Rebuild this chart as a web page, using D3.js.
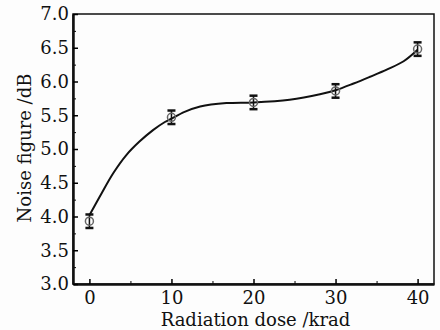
<!DOCTYPE html>
<html>
<head>
<meta charset="utf-8">
<script src="https://cdn.jsdelivr.net/npm/d3@7"></script>
<style>
  body { margin: 0; background: #fdfdfd; }
  svg text { font-family: "DejaVu Serif", serif; fill: #111; }
</style>
</head>
<body>
<div id="chart"></div>
<script>
'use strict'

// measured points with error bars
const doses = [0, 10, 20, 30, 40]
const noise = [3.93, 5.47, 5.69, 5.86, 6.48]
const errs = [0.1, 0.1, 0.1, 0.1, 0.1]

// fitted curve
const fitDose = [0, 1.2, 2.9, 4.5, 6.1, 7.75, 9.2, 10, 11.6, 13.5, 16.7, 20, 24.4, 28.1, 30, 32.2, 34.2, 36.3, 38.3, 40]
const fitNoise = [4.02, 4.28, 4.64, 4.91, 5.11, 5.28, 5.40, 5.45, 5.55, 5.63, 5.68, 5.69, 5.73, 5.81, 5.87, 5.97, 6.07, 6.18, 6.30, 6.47]

const xTicks = [0, 10, 20, 30, 40]
const yTicks = [3.0, 3.5, 4.0, 4.5, 5.0, 5.5, 6.0, 6.5, 7.0]

var W = 440, H = 330
var margin = { top: 14, right: 6, bottom: 46, left: 73 }
var width = W - margin.left - margin.right
var height = H - margin.top - margin.bottom

var x = d3.scaleLinear().domain([-2, 42]).range([0, width])
var y = d3.scaleLinear().domain([3, 7]).range([height, 0])

var svg = d3.select('#chart').append('svg')
    .attr('width', W)
    .attr('height', H)
var g = svg.append('g')
    .attr('transform', 'translate(' + margin.left + ',' + margin.top + ')')

// frame
g.append('rect')
    .attr('width', width)
    .attr('height', height)
    .attr('fill', 'none')
    .attr('stroke', '#111')
    .attr('stroke-width', 1.5)

// minor ticks
g.append('g')
    .attr('transform', 'translate(0,' + height + ')')
    .call(d3.axisBottom(x).tickValues([5, 15, 25, 35]).tickSizeInner(-3).tickSizeOuter(0).tickFormat(''))
    .call(a => a.select('.domain').remove())
g.append('g')
    .call(d3.axisLeft(y).tickValues(d3.range(3.25, 7, 0.5)).tickSizeInner(-3).tickSizeOuter(0).tickFormat(''))
    .call(a => a.select('.domain').remove())

// x axis
var xa = g.append('g')
    .attr('transform', 'translate(0,' + height + ')')
    .call(d3.axisBottom(x).tickValues(xTicks).tickSizeInner(-5).tickSizeOuter(0).tickPadding(7))
xa.select('.domain').attr('stroke-width', 2.5).attr('stroke', '#111')
xa.selectAll('.tick line').attr('stroke-width', 1.5)
xa.selectAll('text').attr('font-size', 18).style('font-family', '"DejaVu Serif", serif')

// y axis
var ya = g.append('g')
    .call(d3.axisLeft(y).tickValues(yTicks).tickFormat(d3.format('.1f')).tickSizeInner(-5).tickSizeOuter(0).tickPadding(4))
ya.select('.domain').attr('stroke-width', 2.5).attr('stroke', '#111')
ya.selectAll('.tick line').attr('stroke-width', 1.5)
ya.selectAll('text').attr('font-size', 18).style('font-family', '"DejaVu Serif", serif')

// axis titles
svg.append('text')
    .attr('x', margin.left + x(20) + 2)
    .attr('y', 326)
    .attr('text-anchor', 'middle')
    .attr('font-size', 18)
    .text('Radiation dose /krad')
svg.append('text')
    .attr('transform', 'translate(31,148) rotate(-90)')
    .attr('text-anchor', 'middle')
    .attr('font-size', 18)
    .text('Noise figure /dB')

// fitted curve
var fit = fitDose.map((d, i) => [d, fitNoise[i]])
var valueline = d3.line()
    .x(d => x(d[0]))
    .y(d => y(d[1]))
    .curve(d3.curveCatmullRom.alpha(0.5))
g.append('path')
    .datum(fit)
    .attr('fill', 'none')
    .attr('stroke', '#111')
    .attr('stroke-width', 2)
    .attr('d', valueline)

// error bars
var pts = doses.map((d, i) => ({ x: d, y: noise[i], e: errs[i] }))
var eb = g.selectAll('.eb').data(pts).enter().append('g')
eb.append('line')
    .attr('x1', d => x(d.x)).attr('x2', d => x(d.x))
    .attr('y1', d => y(d.y - d.e)).attr('y2', d => y(d.y + d.e))
    .attr('stroke', '#111').attr('stroke-width', 1.5)
eb.append('line')
    .attr('x1', d => x(d.x) - 4).attr('x2', d => x(d.x) + 4)
    .attr('y1', d => y(d.y + d.e)).attr('y2', d => y(d.y + d.e))
    .attr('stroke', '#111').attr('stroke-width', 2.5)
eb.append('line')
    .attr('x1', d => x(d.x) - 4).attr('x2', d => x(d.x) + 4)
    .attr('y1', d => y(d.y - d.e)).attr('y2', d => y(d.y - d.e))
    .attr('stroke', '#111').attr('stroke-width', 2.5)

// open markers
g.selectAll('.pt').data(pts).enter().append('circle')
    .attr('cx', d => x(d.x))
    .attr('cy', d => y(d.y))
    .attr('r', 4)
    .attr('fill', 'none')
    .attr('stroke', '#666')
    .attr('stroke-width', 1.5)
</script>
</body>
</html>
